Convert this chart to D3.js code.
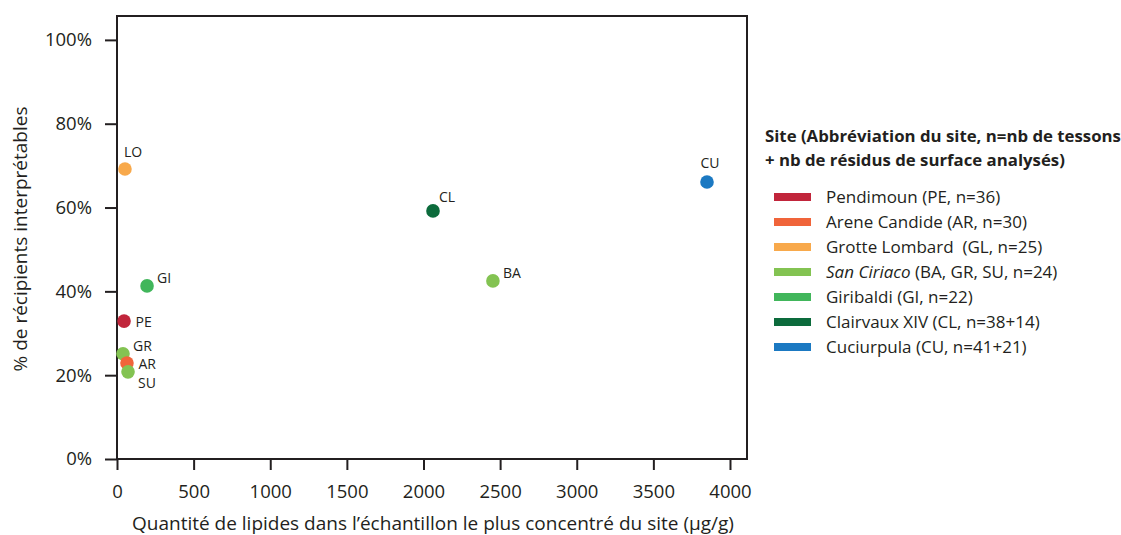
<!DOCTYPE html>
<html><head><meta charset="utf-8">
<script src="https://cdn.jsdelivr.net/npm/d3@7"></script>
<style>body{margin:0;background:#fff}svg{display:block}text{font-family:"Open Sans","Noto Sans",sans-serif;fill:#231f20}</style>
</head><body><svg id="c" width="1121" height="535"></svg>
<script>
const sites = ["LO","CU","CL","BA","GI","PE","GR","AR","SU"];
const lipids = [52,3850,2062,2453,196,46,39,65,72];
const pctInterp = [69.2,66.1,59.2,42.5,41.3,32.9,25.1,22.9,20.8];
const siteGroup = ["GL","CU","CL","SC","GI","PE","SC","AR","SC"];
const labelPos = ["above","top","tr","ur","ur","r","ur","r","br"];
const groups = ["PE","AR","GL","SC","GI","CL","CU"];
const groupColors = ["#c1253b","#f0643a","#f8a94b","#83c352","#41b65b","#0c6b3c","#1b79c2"];
const legendNames = ["Pendimoun","Arene Candide","Grotte Lombard\u00a0","San Ciriaco","Giribaldi","Clairvaux XIV","Cuciurpula"];
const legendDetails = [" (PE, n=36)"," (AR, n=30)"," (GL, n=25)"," (BA, GR, SU, n=24)"," (GI, n=22)"," (CL, n=38+14)"," (CU, n=41+21)"];
const xTicks = [0,500,1000,1500,2000,2500,3000,3500,4000];
const yTicks = [0,20,40,60,80,100];

const svg = d3.select("#c");
const L=117,R=747,T=16,B=459;
const x = d3.scaleLinear().domain([0,4111]).range([L,R]);
const y = d3.scaleLinear().domain([0,105.7]).range([B,T]);
const color = d3.scaleOrdinal().domain(groups).range(groupColors);

svg.append("rect").attr("x",L).attr("y",T).attr("width",R-L).attr("height",B-T)
  .attr("fill","none").attr("stroke","#231f20").attr("stroke-width",2);

const xa = svg.append("g").attr("transform",`translate(0,${B})`)
  .call(d3.axisBottom(x).tickValues(xTicks).tickSize(11).tickPadding(15).tickFormat(d3.format("d")));
const ya = svg.append("g").attr("transform",`translate(${L},0)`)
  .call(d3.axisLeft(y).tickValues(yTicks).tickSize(12).tickPadding(13).tickFormat(d=>d+"%"));
[xa,ya].forEach(a=>{
  a.select(".domain").remove();
  a.selectAll("line").attr("stroke","#231f20").attr("stroke-width",2);
  a.selectAll("text").attr("font-size",18.5).attr("fill","#231f20").attr("font-family",'"Open Sans",sans-serif');
});

svg.append("text").attr("x",433).attr("y",530).attr("text-anchor","middle")
  .attr("font-size",19).text("Quantité de lipides dans l’échantillon le plus concentré du site (µg/g)");
svg.append("text").attr("transform",`translate(27,239) rotate(-90)`).attr("text-anchor","middle")
  .attr("font-size",19).text("% de récipients interprétables");

const data = sites.map((s,i)=>({s,x:lipids[i],y:pctInterp[i],g:siteGroup[i],p:labelPos[i]}));
svg.append("g").selectAll("circle").data(data).join("circle")
  .attr("cx",d=>x(d.x)).attr("cy",d=>y(d.y)).attr("r",6.8).attr("fill",d=>color(d.g));
const off = {above:[-1,-12,"start"],top:[3,-14,"middle"],tr:[6,-9,"start"],ur:[10,-3,"start"],r:[11.5,6,"start"],br:[10,16,"start"]};
svg.append("g").selectAll("text").data(data).join("text")
  .attr("x",d=>x(d.x)+off[d.p][0]).attr("y",d=>y(d.y)+off[d.p][1])
  .attr("text-anchor",d=>off[d.p][2]).attr("font-size",14).text(d=>d.s);

const lg = svg.append("g");
lg.append("text").attr("x",765).attr("y",142).attr("font-size",16.8).attr("font-weight","bold").text("Site (Abbréviation du site, n=nb de tessons");
lg.append("text").attr("x",765).attr("y",166).attr("font-size",16.8).attr("font-weight","bold").text("+ nb de résidus de surface analysés)");
groups.forEach((g,i)=>{
  const yy = 197 + i*25;
  lg.append("rect").attr("x",774).attr("y",yy-4).attr("width",37).attr("height",8).attr("fill",groupColors[i]);
  const t = lg.append("text").attr("x",826).attr("y",yy+6).attr("font-size",17);
  t.append("tspan").attr("font-style",g==="SC"?"italic":"normal").text(legendNames[i]);
  t.append("tspan").text(legendDetails[i]);
});
</script></body></html>
